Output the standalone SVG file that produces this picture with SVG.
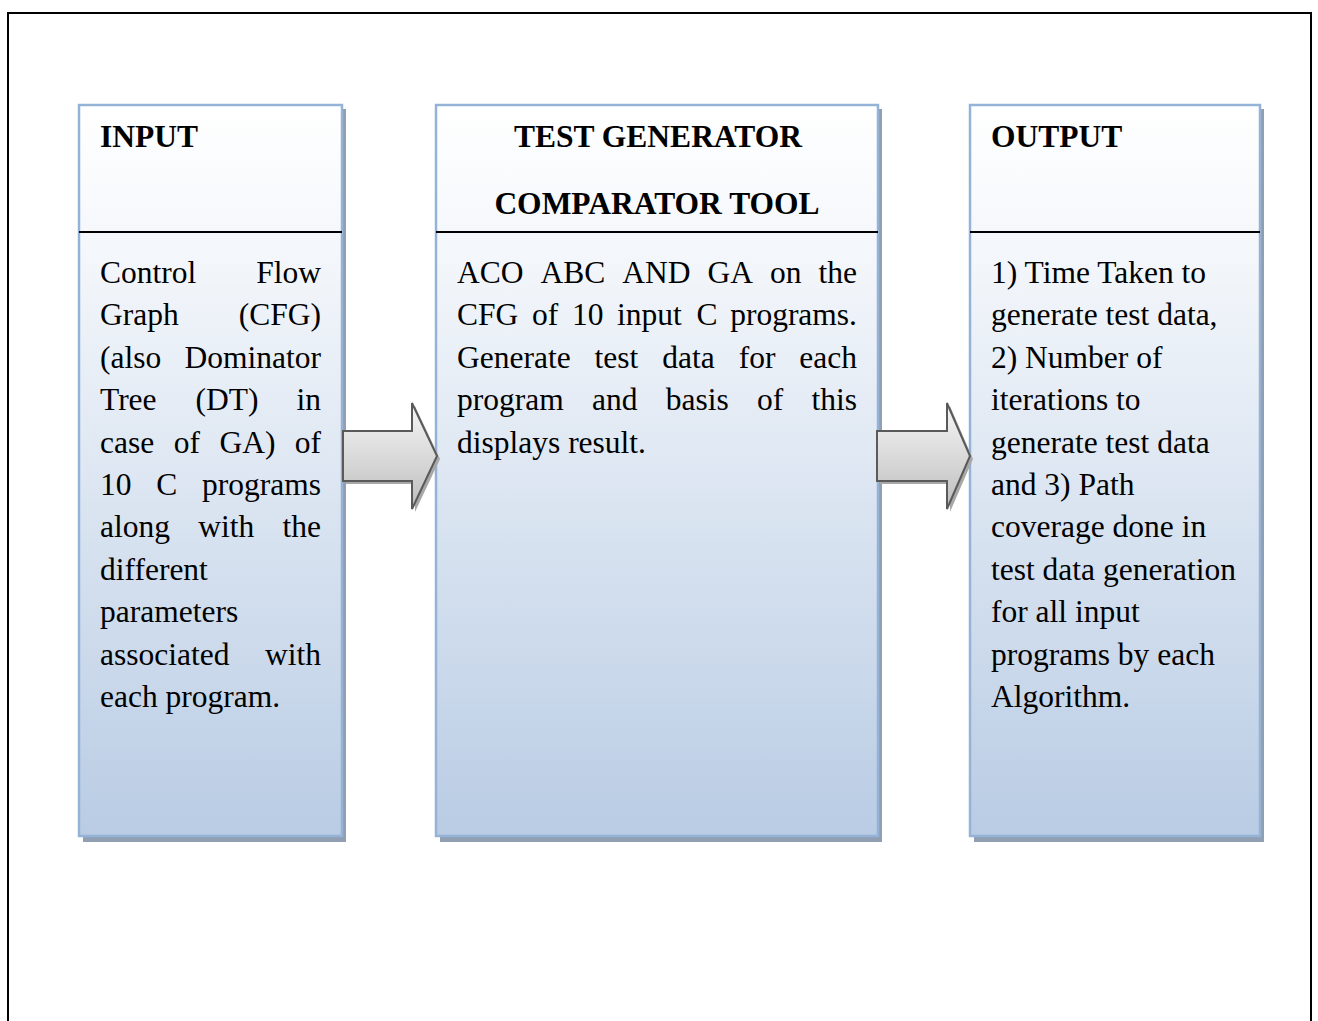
<svg xmlns="http://www.w3.org/2000/svg" width="1318" height="1021" viewBox="0 0 1318 1021">
<defs>
<linearGradient id="boxFill" x1="0" y1="0" x2="0" y2="1">
<stop offset="0" stop-color="#ffffff"/>
<stop offset="0.2" stop-color="#f4f7fb"/>
<stop offset="1" stop-color="#b9cce4"/>
</linearGradient>
<linearGradient id="arrowFill" x1="0" y1="0" x2="0" y2="1">
<stop offset="0" stop-color="#f7f7f7"/>
<stop offset="1" stop-color="#bdbdbd"/>
</linearGradient>
</defs>
<style>
.frame{fill:none;stroke:#000;stroke-width:2}
.shadow{fill:#919fb3}
.box{fill:url(#boxFill);stroke:#95b3d7;stroke-width:2.5}
.sep{stroke:#000;stroke-width:2.2}
.ashadow{fill:#a8a8a8}
.arrow{fill:url(#arrowFill);stroke:#5a5a5a;stroke-width:2;stroke-linejoin:miter}
text{font-family:"Liberation Serif","Times New Roman",serif;fill:#000}
.h{font-size:31.5px;font-weight:bold}
.t{font-size:31.5px}
.e{text-anchor:end}
</style>
<rect class="frame" x="8" y="13" width="1303" height="1030"/>

<g id="node-input">
<rect class="shadow" x="83" y="109" width="263" height="733"/>
<rect class="box" x="79" y="105" width="263" height="731"/>
<line class="sep" x1="79" y1="232" x2="342" y2="232"/>
<text class="h" x="100" y="146.5">INPUT</text>
<text class="t" x="100" y="283">Control</text><text class="t e" x="321" y="283">Flow</text>
<text class="t" x="100" y="325.4">Graph</text><text class="t e" x="321" y="325.4">(CFG)</text>
<text class="t" x="100" y="367.8">(also</text><text class="t e" x="321" y="367.8">Dominator</text>
<text class="t" x="100" y="410.2">Tree</text><text class="t" x="195.6" y="410.2">(DT)</text><text class="t e" x="321" y="410.2">in</text>
<text class="t" x="100" y="452.6">case</text><text class="t" x="173.7" y="452.6">of</text><text class="t" x="219.4" y="452.6">GA)</text><text class="t e" x="321" y="452.6">of</text>
<text class="t" x="100" y="495">10</text><text class="t" x="156.3" y="495">C</text><text class="t e" x="321" y="495">programs</text>
<text class="t" x="100" y="537.4">along</text><text class="t" x="198.3" y="537.4">with</text><text class="t e" x="321" y="537.4">the</text>
<text class="t" x="100" y="579.8">different</text>
<text class="t" x="100" y="622.2">parameters</text>
<text class="t" x="100" y="664.6">associated</text><text class="t e" x="321" y="664.6">with</text>
<text class="t" x="100" y="707">each program.</text>
</g>

<g id="node-tool">
<rect class="shadow" x="440" y="109" width="442" height="733"/>
<rect class="box" x="436" y="105" width="442" height="731"/>
<line class="sep" x1="436" y1="232" x2="878" y2="232"/>
<text class="h" x="658" y="146.5" text-anchor="middle">TEST GENERATOR</text>
<text class="h" x="657" y="213.5" text-anchor="middle">COMPARATOR TOOL</text>
<text class="t" x="457" y="283">ACO</text><text class="t" x="540.5" y="283">ABC</text><text class="t" x="622.3" y="283">AND</text><text class="t" x="707.5" y="283">GA</text><text class="t" x="770" y="283">on</text><text class="t e" x="857" y="283">the</text>
<text class="t" x="457" y="325.4">CFG</text><text class="t" x="532" y="325.4">of</text><text class="t" x="571.9" y="325.4">10</text><text class="t" x="617.1" y="325.4">input</text><text class="t" x="696.6" y="325.4">C</text><text class="t e" x="857" y="325.4">programs.</text>
<text class="t" x="457" y="367.8">Generate</text><text class="t" x="594.6" y="367.8">test</text><text class="t" x="662.3" y="367.8">data</text><text class="t" x="738.7" y="367.8">for</text><text class="t e" x="857" y="367.8">each</text>
<text class="t" x="457" y="410.2">program</text><text class="t" x="592" y="410.2">and</text><text class="t" x="665.8" y="410.2">basis</text><text class="t" x="757.1" y="410.2">of</text><text class="t e" x="857" y="410.2">this</text>
<text class="t" x="457" y="452.6">displays result.</text>
</g>

<g id="node-output">
<rect class="shadow" x="974" y="109" width="290" height="733"/>
<rect class="box" x="970" y="105" width="290" height="731"/>
<line class="sep" x1="970" y1="232" x2="1260" y2="232"/>
<text class="h" x="991" y="146.5">OUTPUT</text>
<text class="t" x="991" y="283">1) Time Taken to</text>
<text class="t" x="991" y="325.4">generate test data,</text>
<text class="t" x="991" y="367.8">2) Number of</text>
<text class="t" x="991" y="410.2">iterations to</text>
<text class="t" x="991" y="452.6">generate test data</text>
<text class="t" x="991" y="495">and 3) Path</text>
<text class="t" x="991" y="537.4">coverage done in</text>
<text class="t" x="991" y="579.8">test data generation</text>
<text class="t" x="991" y="622.2">for all input</text>
<text class="t" x="991" y="664.6">programs by each</text>
<text class="t" x="991" y="707">Algorithm.</text>
</g>

<g id="connectors">
<g id="arrow1">
<polygon class="ashadow" points="346,434 415,434 415,406 440,459 415,512 415,484 346,484"/>
<polygon class="arrow" points="343,431 412,431 412,403 437,456 412,509 412,481 343,481"/>
</g>
<g id="arrow2">
<polygon class="ashadow" points="880,434 950,434 950,406 973,459 950,512 950,484 880,484"/>
<polygon class="arrow" points="877,431 947,431 947,403 970,456 947,509 947,481 877,481"/>
</g>
</g>
</svg>
